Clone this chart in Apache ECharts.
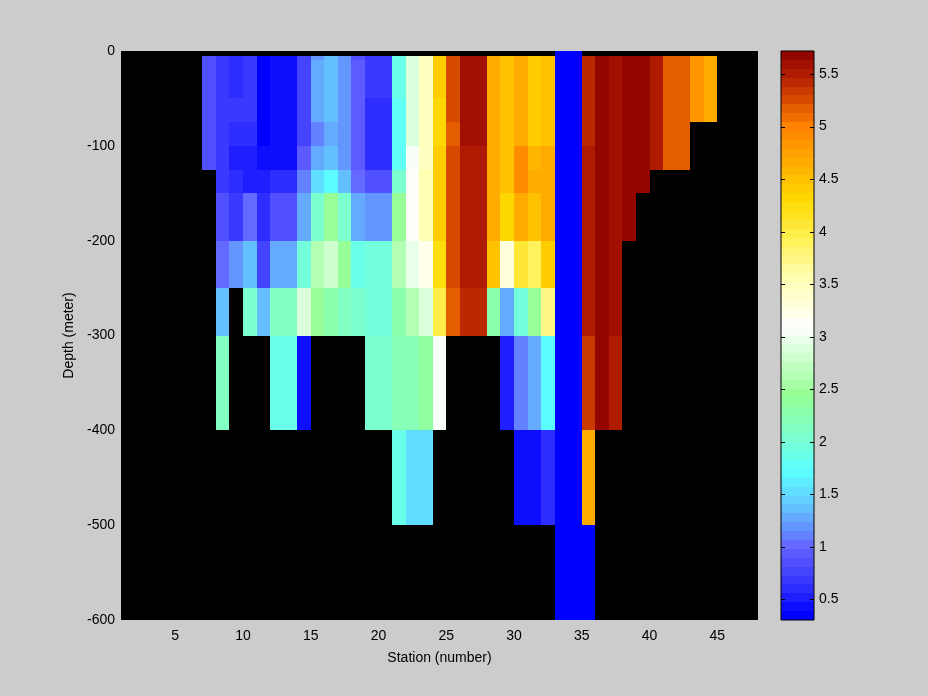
<!DOCTYPE html>
<html><head><meta charset="utf-8">
<script src="https://cdn.jsdelivr.net/npm/echarts@6/dist/echarts.min.js"></script>
<style>html,body{margin:0;padding:0;background:#cccccc;}#c{width:928px;height:696px;}</style>
</head><body><div id="c"></div>
<script>
const N = null;
// left edge station of each column (each cell spans station s to s+1)
const stations = [7,8,9,10,11,12,13,14,15,16,17,18,19,20,21,22,23,24,25,26,27,28,29,30,31,32,33,34,35,36,37,38,39,40,41,42,43,44];
// depth level boundaries (m)
const depthEdges = [0,5,10,30,50,75,100,125,150,200,250,300,400,500,600];
// one array per depth layer, columns c7..c44
const d0_5     = [N,N,N,N,N,N,N,N,N,N,N,N,N,N,N,N,N,N,N,N,N,N,N,N,N,N,0.31,0.31,N,N,N,N,N,N,N,N,N,N];
const d5_10    = [0.82,0.70,0.60,0.70,0.38,0.45,0.45,0.78,1.15,1.40,1.15,0.86,0.70,0.70,1.90,2.92,3.50,4.40,5.28,5.58,5.58,4.68,4.52,4.62,4.45,4.52,0.31,0.31,5.42,5.70,5.60,5.70,5.70,5.48,5.20,5.20,4.80,4.68];
const d10_30   = [0.82,0.70,0.60,0.70,0.38,0.45,0.45,0.78,1.25,1.40,1.15,0.93,0.70,0.70,1.90,2.92,3.50,4.40,5.28,5.58,5.58,4.68,4.52,4.62,4.45,4.52,0.31,0.31,5.42,5.70,5.60,5.70,5.70,5.48,5.20,5.20,4.80,4.68];
const d30_50   = [0.82,0.70,0.60,0.70,0.38,0.45,0.45,0.78,1.25,1.40,1.15,0.93,0.70,0.70,1.85,2.92,3.50,4.40,5.28,5.58,5.58,4.68,4.52,4.62,4.45,4.52,0.31,0.31,5.42,5.70,5.60,5.70,5.70,5.48,5.20,5.20,4.80,4.68];
const d50_75   = [0.82,0.70,0.70,0.70,0.38,0.45,0.45,0.78,1.25,1.40,1.15,0.93,0.58,0.58,1.78,2.92,3.50,4.30,5.28,5.58,5.58,4.68,4.52,4.62,4.45,4.52,0.31,0.31,5.42,5.70,5.60,5.70,5.70,5.48,5.20,5.20,4.80,4.68];
const d75_100  = [0.82,0.70,0.58,0.58,0.38,0.45,0.45,0.78,1.11,1.30,1.15,0.93,0.58,0.58,1.75,2.92,3.50,4.30,5.20,5.58,5.58,4.68,4.52,4.62,4.45,4.52,0.31,0.31,5.42,5.70,5.60,5.70,5.70,5.48,5.20,5.20,N,N];
const d100_125 = [0.82,0.70,0.55,0.55,0.45,0.45,0.45,0.93,1.25,1.40,1.15,0.93,0.58,0.58,1.75,3.05,3.50,4.40,5.28,5.48,5.48,4.68,4.52,4.90,4.58,4.68,0.31,0.31,5.48,5.70,5.60,5.70,5.70,5.48,5.20,5.20,N,N];
const d125_150 = [N,0.70,0.62,0.55,0.52,0.58,0.58,1.08,1.50,1.72,1.40,1.00,0.82,0.82,2.00,3.15,3.60,4.40,5.28,5.48,5.48,4.68,4.52,4.90,4.68,4.68,0.31,0.31,5.48,5.70,5.60,5.70,5.70,N,N,N,N,N];
const d150_200 = [N,0.82,0.70,1.00,0.58,0.82,0.82,1.30,2.00,2.45,2.00,1.28,1.15,1.15,2.45,3.15,3.60,4.40,5.28,5.48,5.48,4.68,4.35,4.62,4.52,4.68,0.31,0.31,5.48,5.70,5.60,5.70,N,N,N,N,N,N];
const d200_250 = [N,1.00,1.20,1.40,0.78,1.25,1.25,1.98,2.65,2.80,2.50,1.85,1.95,1.95,2.60,2.95,3.20,4.22,5.22,5.48,5.48,4.50,3.30,4.10,3.90,4.40,0.31,0.31,5.48,5.70,5.60,N,N,N,N,N,N,N];
const d250_300 = [N,1.40,N,2.00,1.40,2.10,2.10,2.90,2.50,2.30,2.15,2.05,1.95,1.95,2.30,2.60,2.90,3.95,5.15,5.40,5.40,2.30,1.30,1.98,2.50,3.75,0.31,0.31,5.48,5.70,5.60,N,N,N,N,N,N,N];
const d300_400 = [N,2.10,N,N,N,1.85,1.85,0.45,N,N,N,N,2.00,2.00,2.20,2.20,2.40,3.05,N,N,N,N,0.55,1.08,1.25,1.72,0.31,0.31,5.33,5.70,5.48,N,N,N,N,N,N,N];
const d400_500 = [N,N,N,N,N,N,N,N,N,N,N,N,N,N,1.90,1.50,1.50,N,N,N,N,N,N,0.45,0.45,0.62,0.31,0.31,4.68,N,N,N,N,N,N,N,N,N];
const d500_600 = [N,N,N,N,N,N,N,N,N,N,N,N,N,N,N,N,N,N,N,N,N,N,N,N,N,N,0.31,0.31,0.31,N,N,N,N,N,N,N,N,N];

const xTicks = [5,10,15,20,25,30,35,40,45];
const cbarTicks = [0.5,1,1.5,2,2.5,3,3.5,4,4.5,5,5.5];
const cmin = 0.303, cmax = 5.72, nLevels = 64;

// colormap anchors [value, r, g, b]
const anchors = [
  [0.35,0,0,255],[0.60,45,45,255],[1.00,100,100,255],[1.15,100,140,255],[1.40,100,200,255],
  [1.72,90,255,255],[2.05,125,255,205],[2.45,150,255,150],[3.10,255,255,255],[3.55,255,255,180],
  [3.95,255,240,80],[4.30,255,218,0],[4.55,255,185,0],[5.00,255,130,0],[5.25,215,75,0],
  [5.48,178,30,0],[5.73,140,0,0]
];
function lerpColor(v){
  if (v <= anchors[0][0]) return 'rgb('+anchors[0].slice(1).join(',')+')';
  for (let i=1;i<anchors.length;i++){
    if (v <= anchors[i][0]){
      const a=anchors[i-1], b=anchors[i], t=(v-a[0])/(b[0]-a[0]);
      const c=[1,2,3].map(k=>Math.round(a[k]+(b[k]-a[k])*t));
      return 'rgb('+c.join(',')+')';
    }
  }
  return 'rgb('+anchors[anchors.length-1].slice(1).join(',')+')';
}
const palette = [];
for (let i=0;i<nLevels;i++) palette.push(lerpColor(cmin+(i+0.5)*(cmax-cmin)/nLevels));
function colorOf(v){
  let i=Math.floor((v-cmin)/(cmax-cmin)*nLevels);
  if(i<0)i=0; if(i>nLevels-1)i=nLevels-1;
  return palette[i];
}

const layers = [d0_5,d5_10,d10_30,d30_50,d50_75,d75_100,d100_125,d125_150,d150_200,d200_250,d250_300,d300_400,d400_500,d500_600];
const cells = [];
layers.forEach((row,r)=>row.forEach((v,i)=>{
  if (v!==null) cells.push([stations[i], stations[i]+1, -depthEdges[r], -depthEdges[r+1], v]);
}));
const bands = palette.map((c,i)=>[cmin+i*(cmax-cmin)/nLevels, cmin+(i+1)*(cmax-cmin)/nLevels, i]);

const FONT = '"Liberation Sans", Arial, Helvetica, sans-serif';
const txt = {color:'#000', fontSize:14, fontFamily:FONT};

const chart = echarts.init(document.getElementById('c'), null, {renderer:'canvas'});
chart.setOption({
  animation:false,
  backgroundColor:'#cccccc',
  grid:[
    {left:121, top:51, width:637, height:569, show:true, backgroundColor:'#000', borderWidth:0},
    {left:781, top:51, width:33, height:569, show:true, backgroundColor:'transparent', borderColor:'#000', borderWidth:1, z:10}
  ],
  xAxis:[
    {type:'value', gridIndex:0, min:1, max:48,
     axisLine:{show:false}, axisTick:{show:false}, splitLine:{show:false},
     axisLabel:Object.assign({customValues:xTicks, margin:9}, txt),
     name:'Station (number)', nameLocation:'middle', nameGap:31, nameTextStyle:txt},
    {type:'value', gridIndex:1, min:0, max:1, show:false}
  ],
  yAxis:[
    {type:'value', gridIndex:0, min:-600, max:0, interval:100,
     axisLine:{show:false}, axisTick:{show:false}, splitLine:{show:false},
     axisLabel:Object.assign({margin:6, padding:[3,0,0,0]}, txt),
     name:'Depth (meter)', nameLocation:'middle', nameGap:42, nameRotate:90, nameTextStyle:txt},
    {type:'value', gridIndex:1, min:cmin, max:cmax, position:'right',
     axisLine:{show:false}, splitLine:{show:false}, axisTick:{show:false},
     axisLabel:Object.assign({customValues:cbarTicks, margin:5, formatter:v=>String(v)}, txt)}
  ],
  series:[
    {type:'custom', xAxisIndex:0, yAxisIndex:0, silent:true, data:cells,
     encode:{x:[0,1], y:[2,3]},
     renderItem:function(params, api){
       const a=api.coord([api.value(0), api.value(2)]);
       const b=api.coord([api.value(1), api.value(3)]);
       const x0=Math.round(a[0]), x1=Math.round(b[0]), y0=Math.round(a[1]), y1=Math.round(b[1]);
       return {type:'rect', shape:{x:x0, y:y0, width:x1-x0, height:y1-y0}, style:{fill:colorOf(api.value(4))}};
     }},
    {type:'custom', xAxisIndex:1, yAxisIndex:1, silent:true, data:bands, z:1,
     encode:{y:[0,1]},
     renderItem:function(params, api){
       const a=api.coord([0, api.value(1)]);
       const b=api.coord([1, api.value(0)]);
       const x0=Math.round(a[0]), x1=Math.round(b[0]), y0=Math.round(a[1]), y1=Math.round(b[1]);
       return {type:'rect', shape:{x:x0, y:y0, width:x1-x0, height:y1-y0}, style:{fill:palette[api.value(2)]}};
     }},
    {type:'custom', xAxisIndex:1, yAxisIndex:1, silent:true, data:cbarTicks.map(v=>[v]), z:5,
     encode:{y:0},
     renderItem:function(params, api){
       const l=api.coord([0, api.value(0)]);
       const r=api.coord([1, api.value(0)]);
       const y=Math.round(l[1])+0.5;
       const st={stroke:'#000', lineWidth:1};
       return {type:'group', children:[
         {type:'line', shape:{x1:l[0], y1:y, x2:l[0]+4, y2:y}, style:st},
         {type:'line', shape:{x1:r[0]-4, y1:y, x2:r[0], y2:y}, style:st}
       ]};
     }}
  ]
});
</script>
</body></html>
